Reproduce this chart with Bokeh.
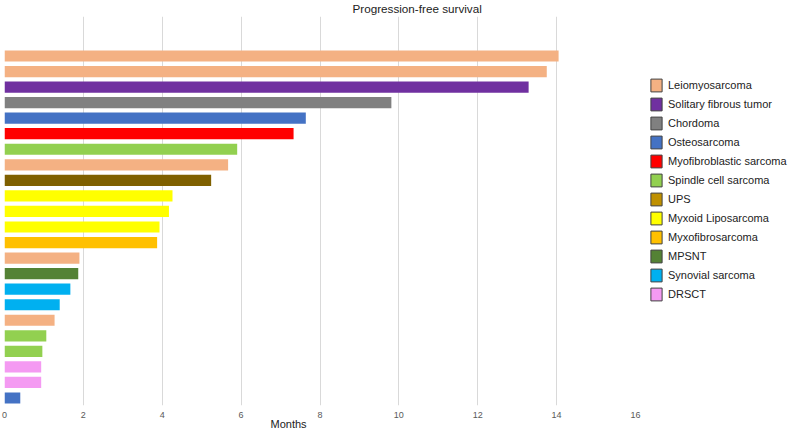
import numpy as np
from bokeh.plotting import figure
from bokeh.layouts import row
from bokeh.models import ColumnDataSource, Legend, LegendItem, FixedTicker, Title
from bokeh.embed import file_html
from bokeh.resources import INLINE

# ---- data (top bar first) ----
bar_types = ["Leiomyosarcoma", "Leiomyosarcoma", "Solitary fibrous tumor", "Chordoma",
             "Osteosarcoma", "Myofibroblastic sarcoma", "Spindle cell sarcoma", "Leiomyosarcoma",
             "UPS", "Myxoid Liposarcoma", "Myxoid Liposarcoma", "Myxoid Liposarcoma",
             "Myxofibrosarcoma", "Leiomyosarcoma", "MPSNT", "Synovial sarcoma",
             "Synovial sarcoma", "Leiomyosarcoma", "Spindle cell sarcoma", "Spindle cell sarcoma",
             "DRSCT", "DRSCT", "Osteosarcoma"]
months = [14.05, 13.75, 13.29, 9.81, 7.64, 7.33, 5.90, 5.67, 5.24, 4.26, 4.17, 3.93,
          3.87, 1.90, 1.87, 1.67, 1.40, 1.27, 1.06, 0.96, 0.93, 0.93, 0.40]

legend_types = ["Leiomyosarcoma", "Solitary fibrous tumor", "Chordoma", "Osteosarcoma",
                "Myofibroblastic sarcoma", "Spindle cell sarcoma", "UPS", "Myxoid Liposarcoma",
                "Myxofibrosarcoma", "MPSNT", "Synovial sarcoma", "DRSCT"]
legend_colors = ["#F4B183", "#7030A0", "#808080", "#4472C4", "#FF0000", "#92D050",
                 "#BF9000", "#FFFF00", "#FFC000", "#548235", "#00B0F0", "#F49AF2"]
bar_color_map = dict(zip(legend_types, legend_colors))
bar_color_map["UPS"] = "#7F6000"

x_ticks = [0, 2, 4, 6, 8, 10, 12, 14, 16]
title_text = "Progression-free survival"
x_label = "Months"

n = len(months)
ypos = list(range(n - 1, -1, -1))
src = ColumnDataSource(dict(y=ypos, right=months, typ=bar_types,
                            color=[bar_color_map[t] for t in bar_types]))

p = figure(width=645, height=428, x_range=(0, 16), y_range=(-0.482, 24.54),
           output_backend="svg", toolbar_location=None, y_axis_location=None,
           min_border_left=4, min_border_top=16, min_border_right=10, min_border_bottom=23)
p.outline_line_color = None
p.background_fill_color = "white"

p.add_layout(Title(text=title_text, align="left", offset=348, standoff=0,
                   vertical_align="top",
                   text_font="Liberation Sans", text_font_size="11.7px",
                   text_font_style="normal", text_color="#222222"), "above")

p.hbar(y="y", left=0, right="right", height=0.72, source=src,
       fill_color="color", line_color=None)

p.ygrid.visible = False
p.xgrid.grid_line_color = "#d9d9d9"
p.xgrid.grid_line_width = 1
ax = p.xaxis[0]
ax.ticker = FixedTicker(ticks=x_ticks)
ax.axis_line_color = None
ax.major_tick_line_color = None
ax.minor_tick_line_color = None
ax.major_tick_out = 0
ax.major_tick_in = 0
ax.major_label_text_font = "Liberation Sans"
ax.major_label_text_font_size = "9px"
ax.major_label_text_color = "#595959"
ax.major_label_standoff = 6

p.add_layout(Title(text=x_label, align="left", offset=266, standoff=-10,
                   text_font="Liberation Sans", text_font_size="11px",
                   text_font_style="normal", text_color="#222222"), "below")

# legend figure
lf = figure(width=145, height=428, x_range=(0, 1), y_range=(0, 1),
            output_backend="svg", toolbar_location=None,
            x_axis_location=None, y_axis_location=None,
            min_border_left=0, min_border_right=0, min_border_top=0, min_border_bottom=0)
lf.outline_line_color = None
lf.xgrid.visible = False
lf.ygrid.visible = False
items = []
for t, c in zip(legend_types, legend_colors):
    r = lf.hbar(y=[np.nan], left=[np.nan], right=[np.nan], height=0.5, fill_color=c,
                line_color="#404040", line_width=1)
    items.append(LegendItem(label=t, renderers=[r]))
legend = Legend(items=items, location=(4, 103), border_line_color=None,
                background_fill_alpha=0, padding=5, margin=0, spacing=3,
                glyph_width=14, glyph_height=16, label_height=16, label_standoff=5,
                label_text_font="Liberation Sans", label_text_font_size="11px",
                label_text_color="#222222")
lf.add_layout(legend)

layout = row(p, lf)
open("out.html", "w").write(file_html(layout, INLINE))
